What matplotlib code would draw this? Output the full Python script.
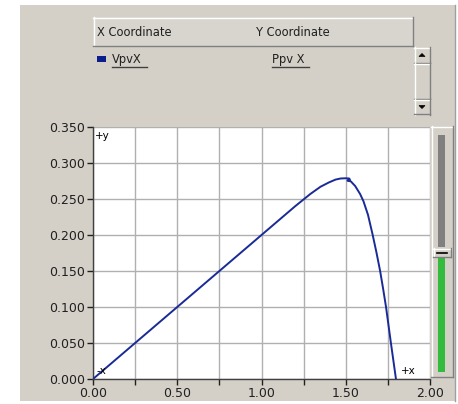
import numpy as np
import matplotlib
matplotlib.use("Agg")
from matplotlib import pyplot as plt
from matplotlib.patches import Rectangle, Polygon
from matplotlib.lines import Line2D

# data (Vpv vs Ppv)
vpv = [0.00, 0.25, 0.50, 0.75, 1.00, 1.20, 1.29, 1.35, 1.40, 1.44, 1.47, 1.50, 1.52,
       1.525, 1.51, 1.53, 1.556, 1.585, 1.605, 1.632, 1.659, 1.682, 1.704, 1.722,
       1.739, 1.768, 1.798]
ppv = [0.000, 0.050, 0.100, 0.150, 0.200, 0.240, 0.257, 0.267, 0.273, 0.277, 0.2785, 0.2788, 0.2785,
       0.277, 0.2755, 0.2745, 0.268, 0.257, 0.247, 0.228, 0.201, 0.176, 0.150, 0.125,
       0.100, 0.050, 0.000]

x_ticks = [0.0, 0.5, 1.0, 1.5, 2.0]
x_minor = [0.25, 0.75, 1.25, 1.75]
y_ticks = [0.0, 0.05, 0.10, 0.15, 0.20, 0.25, 0.30, 0.35]
col_names = ["X Coordinate", "Y Coordinate"]
series_x, series_y = "VpvX", "Ppv X"

W, H = 458, 404
PANEL = "#d4d0c8"
LINE = "#1a2a96"

fig = plt.figure(figsize=(W / 100, H / 100), dpi=100)
fig.patch.set_facecolor("white")


def box(x, y, w, h, **kw):
    # pixel box, top-left origin
    r = Rectangle((x / W, 1 - (y + h) / H), w / W, h / H, transform=fig.transFigure, **kw)
    fig.add_artist(r)
    return r


def hline(x0, x1, y, c, lw=1):
    fig.add_artist(Line2D([x0 / W, x1 / W], [1 - y / H, 1 - y / H], transform=fig.transFigure, color=c, lw=lw))


def vline(x, y0, y1, c, lw=1):
    fig.add_artist(Line2D([x / W, x / W], [1 - y0 / H, 1 - y1 / H], transform=fig.transFigure, color=c, lw=lw))


def raised(x, y, w, h, face=PANEL):
    box(x, y, w, h, facecolor=face, edgecolor="none")
    hline(x, x + w, y + 0.5, "white")
    vline(x + 0.5, y, y + h, "white")
    hline(x, x + w, y + h - 0.5, "#808080")
    vline(x + w - 0.5, y, y + h, "#808080")


def tri(cx, cy, up=True):
    s = 3
    if up:
        pts = [(cx - s, cy + 1.5), (cx + s, cy + 1.5), (cx, cy - 1.5)]
    else:
        pts = [(cx - s, cy - 1.5), (cx + s, cy - 1.5), (cx, cy + 1.5)]
    fig.add_artist(Polygon([(px / W, 1 - py / H) for px, py in pts], closed=True,
                           transform=fig.transFigure, facecolor="black", edgecolor="black", lw=0.5))


# grey panel
box(20, 5, 435, 396, facecolor=PANEL, edgecolor="none")
vline(455, 5, 401, "#a0a0a0")

# header of the coordinate list
raised(93, 17, 320, 29, face="#d8d5ce")
fig.text(97 / W, 1 - 32 / H, col_names[0], fontsize=8.3, va="center", ha="left", color="#202020")
fig.text(256 / W, 1 - 32 / H, col_names[1], fontsize=8.3, va="center", ha="left", color="#202020")

# legend row
box(97, 56, 9, 6, facecolor="#0a1e8c", edgecolor="none")
fig.text(112 / W, 1 - 59 / H, series_x, fontsize=8.3, va="center", ha="left", color="#202020")
hline(112, 147, 67, "#404040")
fig.text(272 / W, 1 - 59 / H, series_y, fontsize=8.3, va="center", ha="left", color="#202020")
hline(272, 309, 67, "#404040")

# scrollbar
box(414, 47, 16, 67, facecolor="#e6e3dd", edgecolor="none")
raised(414, 47, 16, 16)
raised(414, 63, 16, 36)
raised(414, 99, 16, 16)
tri(422, 55, up=True)
tri(422, 107, up=False)

# right slider
raised(431, 126, 22, 251)
box(438, 135, 7, 112, facecolor="#808080", edgecolor="none")
box(438, 258, 7, 114, facecolor="#33bb3d", edgecolor="none")
raised(433, 248, 18, 9)
hline(437, 447, 252.5, "black", lw=1.2)

# plot
ax = fig.add_axes([93 / W, (H - 379) / H, 337 / W, 252 / H])
ax.set_zorder(10)
ax.set_facecolor("white")
ax.plot(vpv, ppv, color=LINE, lw=1.4, zorder=3)

ax.set_xlim(0, 2.0)
ax.set_ylim(0, 0.35)
ax.set_xticks(x_ticks)
ax.set_xticks(x_minor, minor=True)
ax.set_yticks(y_ticks)
ax.set_xticklabels(["%.2f" % v for v in x_ticks])
ax.set_yticklabels(["%.3f" % v for v in y_ticks])
ax.grid(True, which="both", color="#b0b0b0", lw=1)
ax.set_axisbelow(True)
ax.tick_params(which="both", direction="out", length=4, width=1, color="#202020",
               labelsize=9, pad=2, labelcolor="#202020")
for s in ["top", "right"]:
    ax.spines[s].set_visible(False)
for s in ["left", "bottom"]:
    ax.spines[s].set_color("#404040")
    ax.spines[s].set_linewidth(1)

ax.text(0.005, 0.985, "+y", transform=ax.transAxes, fontsize=7.5, va="top", ha="left")
ax.text(0.01, 0.01, "-x", transform=ax.transAxes, fontsize=7.5, va="bottom", ha="left")
ax.text(0.915, 0.01, "+x", transform=ax.transAxes, fontsize=7.5, va="bottom", ha="left")

fig.savefig("out.png", dpi=100, facecolor="white")
